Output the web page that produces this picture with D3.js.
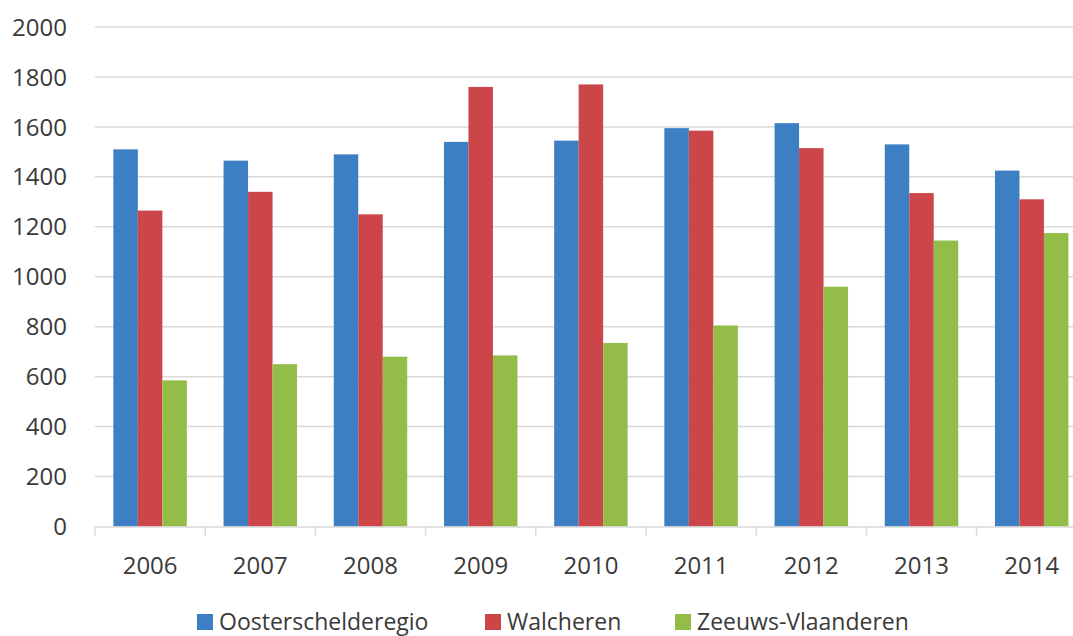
<!DOCTYPE html>
<html>
<head>
<meta charset="utf-8">
<script src="https://cdn.jsdelivr.net/npm/d3@7"></script>
<style>
  body { margin: 0; background: #fff; }
  svg { display: block; font-family: "Open Sans", sans-serif; }
</style>
</head>
<body>
<svg id="chart"></svg>
<script>
var years = ["2006", "2007", "2008", "2009", "2010", "2011", "2012", "2013", "2014"]
var series = ["Oosterschelderegio", "Walcheren", "Zeeuws-Vlaanderen"]
var oosterschelde = [1510, 1465, 1490, 1540, 1545, 1595, 1615, 1530, 1425]
var walcheren = [1265, 1340, 1250, 1760, 1770, 1585, 1515, 1335, 1310]
var zeeuwsVlaanderen = [585, 650, 680, 685, 735, 805, 960, 1145, 1175]
var yTicks = [0, 200, 400, 600, 800, 1000, 1200, 1400, 1600, 1800, 2000]
var colors = ["#3c7fc2", "#cc4548", "#93bd48"]

var screen = {width: 1073, height: 636}
var values = [oosterschelde, walcheren, zeeuwsVlaanderen]
var textColor = "#3a3a3a"

var rows = years.map(function(y, i) {
    return {year: y, vals: series.map(function(s, j) { return {name: s, value: values[j][i]} })}
})

var svg = d3.select("#chart")
    .attr("width", screen.width)
    .attr("height", screen.height)

var left = 95
var step = 110.2

var x0 = d3.scaleBand()
    .domain(years)
    .range([left, left + step * years.length])
    .paddingInner(1/3)
    .paddingOuter(1/6)

var x1 = d3.scaleBand()
    .domain(series)
    .range([0, x0.bandwidth()])

var y = d3.scaleLinear()
    .domain([0, 2000])
    .range([526.5, 27])

// gridlines
svg.append("g")
    .selectAll("line")
    .data(yTicks.slice(1))
    .enter()
    .append("line")
    .attr("x1", left)
    .attr("x2", screen.width)
    .attr("y1", function(d) { return y(d) })
    .attr("y2", function(d) { return y(d) })
    .attr("stroke", "#d9d9d9")
    .attr("stroke-width", 1.5)

// y labels
svg.append("g")
    .selectAll("text")
    .data(yTicks)
    .enter()
    .append("text")
    .attr("x", 67)
    .attr("y", function(d) { return y(d) })
    .attr("dy", "0.36em")
    .attr("text-anchor", "end")
    .attr("font-size", 24)
    .attr("fill", textColor)
    .text(function(d) { return d })

// bars
svg.append("g")
    .selectAll("g")
    .data(rows)
    .enter()
    .append("g")
    .attr("transform", function(d) { return "translate(" + x0(d.year) + ",0)" })
    .selectAll("rect")
    .data(function(d) { return d.vals })
    .enter()
    .append("rect")
    .attr("x", function(d) { return x1(d.name) })
    .attr("width", x1.bandwidth())
    .attr("y", function(d) { return y(d.value) })
    .attr("height", function(d) { return y(0) - y(d.value) })
    .attr("fill", function(d, i) { return colors[i] })

// x axis
var xAxis = d3.axisBottom(x0).tickSize(0).tickPadding(0)
var gx = svg.append("g")
    .attr("transform", "translate(0," + y(0) + ")")
    .call(xAxis)
gx.select(".domain").remove()
gx.selectAll("text")
    .attr("y", 47)
    .attr("dy", 0)
    .attr("font-family", "Open Sans, sans-serif")
    .attr("font-size", 24)
    .attr("fill", textColor)

var bounds = years.map(function(d) { return x0(d) - x0.step() * x0.paddingInner() / 2 })
bounds.push(bounds[bounds.length - 1] + x0.step())
gx.append("line")
    .attr("x1", left)
    .attr("x2", screen.width)
    .attr("y1", 0.5)
    .attr("y2", 0.5)
    .attr("stroke", "#d9d9d9")
    .attr("stroke-width", 1.5)
gx.selectAll(".sep")
    .data(bounds)
    .enter()
    .append("line")
    .attr("class", "sep")
    .attr("x1", function(d) { return d })
    .attr("x2", function(d) { return d })
    .attr("y1", 0)
    .attr("y2", 9)
    .attr("stroke", "#d9d9d9")
    .attr("stroke-width", 1.5)

// legend
var legendX = [197, 485, 675]
var legend = svg.append("g")
    .selectAll("g")
    .data(series)
    .enter()
    .append("g")
    .attr("transform", function(d, i) { return "translate(" + legendX[i] + ",614)" })
legend.append("rect")
    .attr("width", 16)
    .attr("height", 16)
    .attr("fill", function(d, i) { return colors[i] })
legend.append("text")
    .attr("x", 22)
    .attr("y", 16)
    .attr("font-size", 23)
    .attr("fill", textColor)
    .text(function(d) { return d })
</script>
</body>
</html>
